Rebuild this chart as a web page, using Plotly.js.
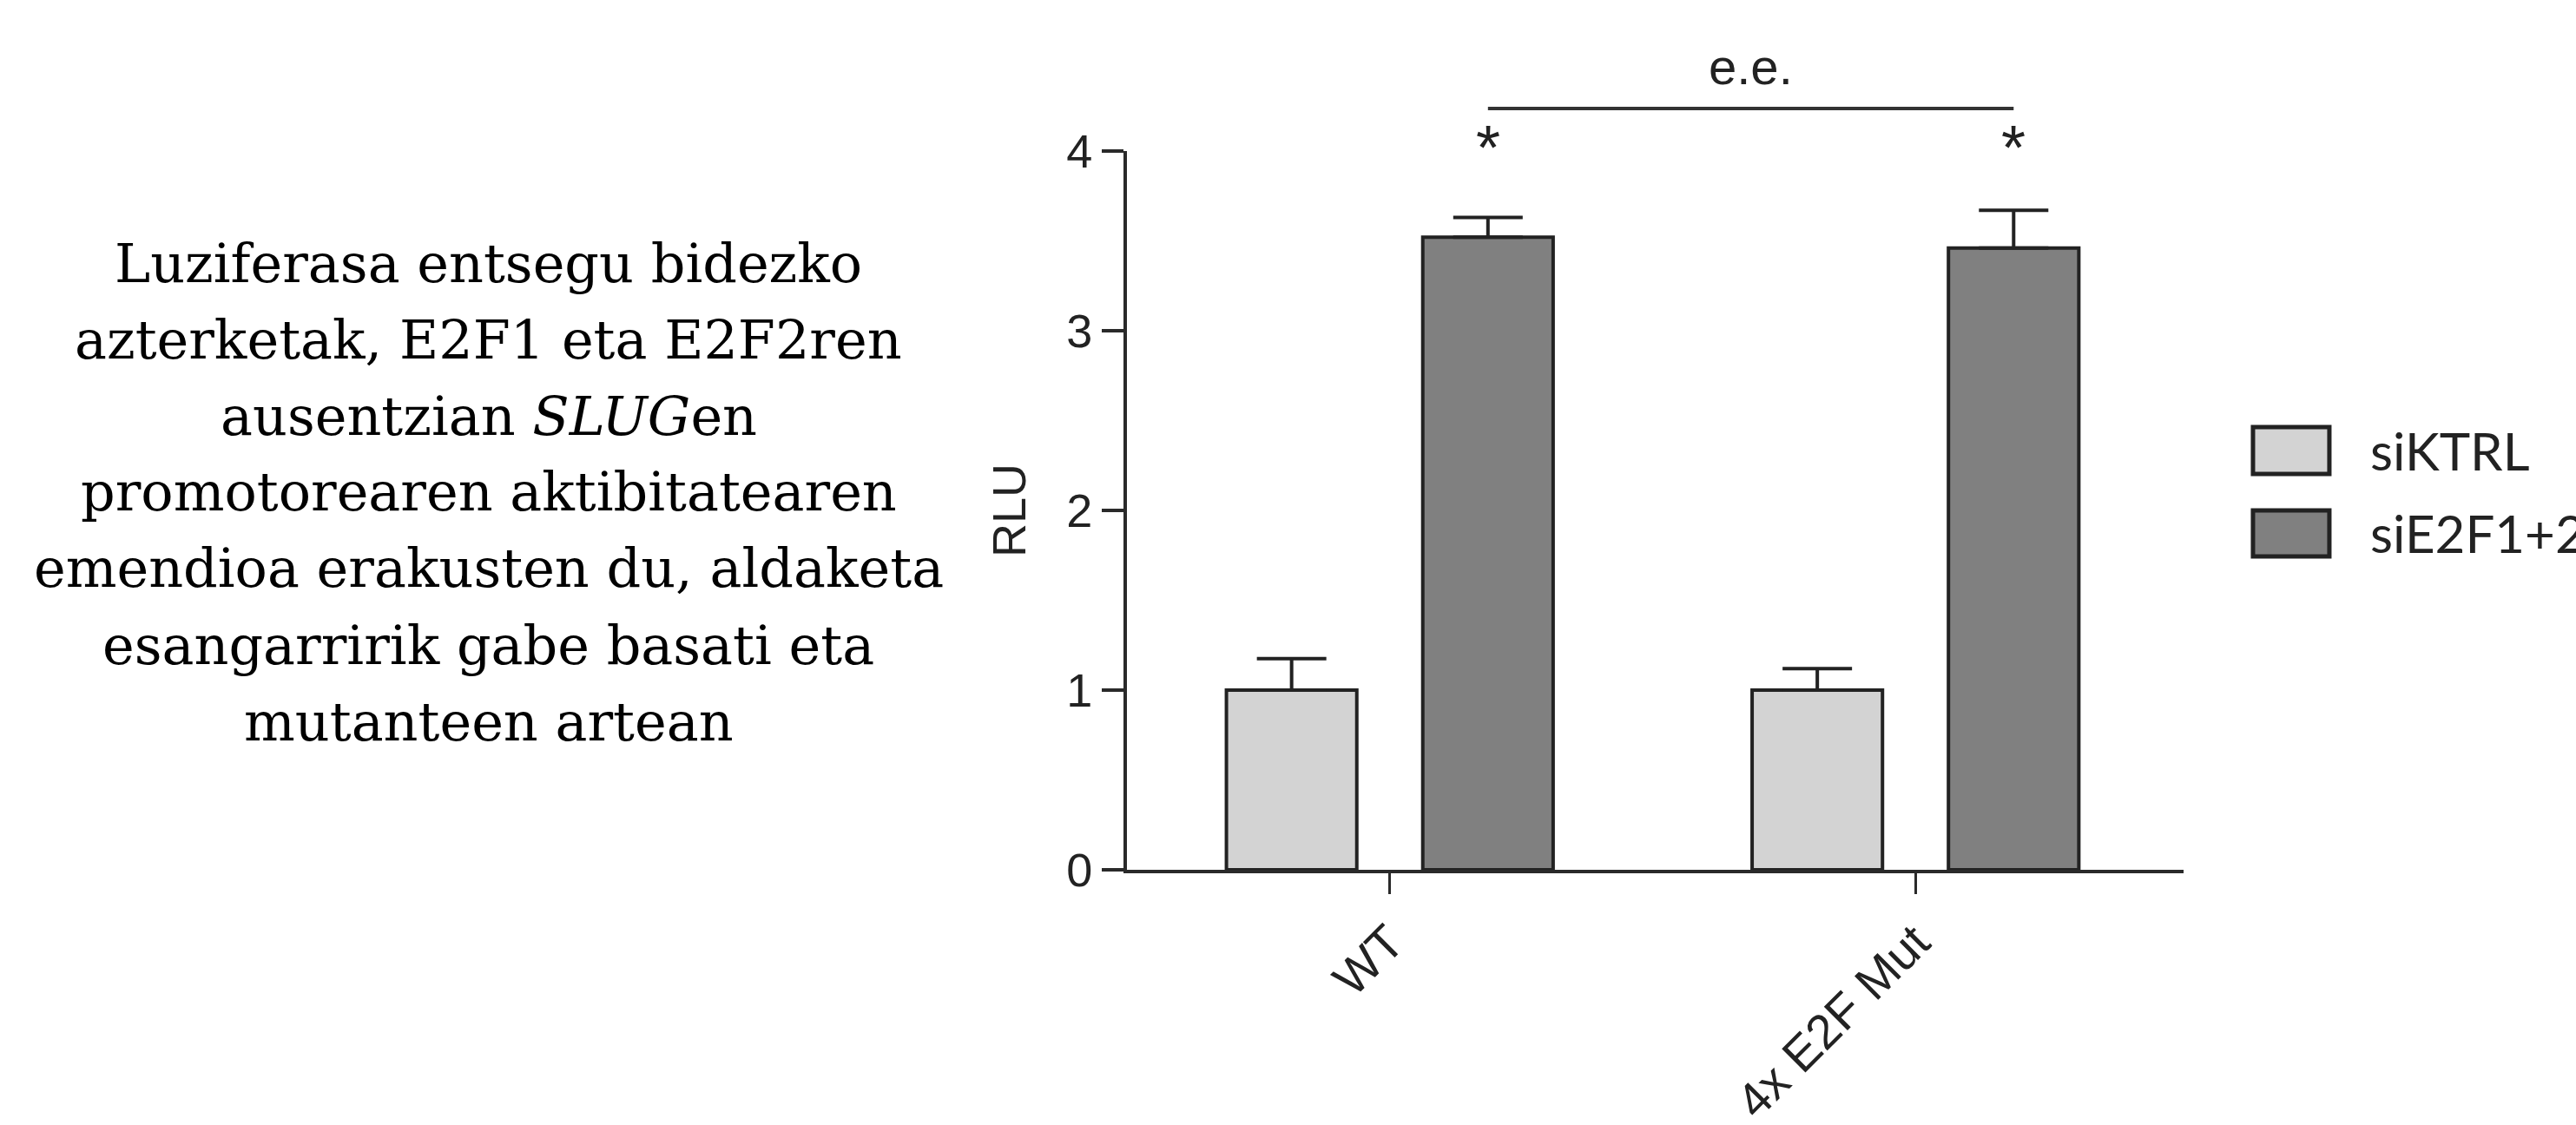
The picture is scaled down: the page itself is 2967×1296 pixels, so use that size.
<!DOCTYPE html>
<html>
<head>
<meta charset="utf-8">
<script src="https://cdn.plot.ly/plotly-3.0.1.min.js"></script>
<style>
  html, body { margin: 0; padding: 0; background: #ffffff; }
  #chart { width: 2967px; height: 1296px; }
</style>
</head>
<body>
<div id="chart"></div>
<script>
// ---- data ----
const categories = ['WT', '4x E2F Mut'];
const seriesNames = ['siKTRL', 'siE2F1+2'];
const siKTRL = [1.0, 1.0];
const siKTRLErr = [0.175, 0.12];
const siE2F = [3.52, 3.46];
const siE2FErr = [0.11, 0.21];
const seriesColors = ['#d3d3d3', '#808080'];
const yTicks = [0, 1, 2, 3, 4];
const yTitle = 'RLU';
const sigMarks = ['*', '*'];
const sigLabel = 'e.e.';
const captionLines = [
  'Luziferasa entsegu bidezko',
  'azterketak, E2F1 eta E2F2ren',
  'ausentzian <i>SLUG</i>en',
  'promotorearen aktibitatearen',
  'emendioa erakusten du, aldaketa',
  'esangarririk gabe basati eta',
  'mutanteen artean'
];

// ---- style ----
const ink = '#222222';
const sans = 'Liberation Sans, Arial, sans-serif';
const bargap = 0.253;
const bargroupgap = 0.336;

function errObj(arr) {
  return {
    type: 'data', symmetric: false, array: arr, arrayminus: arr.map(() => 0),
    color: ink, thickness: 4, width: 40
  };
}

const traces = [
  {
    type: 'bar', name: seriesNames[0], x: categories, y: siKTRL,
    marker: { color: seriesColors[0], line: { color: ink, width: 4 } },
    error_y: errObj(siKTRLErr), showlegend: false
  },
  {
    type: 'bar', name: seriesNames[1], x: categories, y: siE2F,
    marker: { color: seriesColors[1], line: { color: ink, width: 4 } },
    error_y: errObj(siE2FErr), showlegend: false
  }
];

// position of the second bar in each group (category index + offset)
const slot = (1 - bargap) / 2;
const darkOffset = slot / 2;
const darkX = categories.map((c, i) => i + darkOffset);

const annotations = [];
const shapes = [];

// significance stars
darkX.forEach((xv, i) => {
  annotations.push({
    xref: 'x', yref: 'paper', x: xv, y: 1.0054, text: sigMarks[i],
    showarrow: false, xanchor: 'center', yanchor: 'middle',
    font: { family: sans, size: 72, color: ink }
  });
});
// bracket line and "e.e."
shapes.push({
  type: 'line', xref: 'x', yref: 'paper',
  x0: darkX[0], x1: darkX[1], y0: 1.0592, y1: 1.0592,
  line: { color: '#333333', width: 4 }
});
annotations.push({
  xref: 'x', yref: 'paper', x: (darkX[0] + darkX[1]) / 2, y: 1.118, text: sigLabel,
  showarrow: false, xanchor: 'center', yanchor: 'middle',
  font: { family: sans, size: 58, color: ink }
});

// caption (left)
const captionY = [0.8442, 0.7379, 0.6316, 0.5254, 0.4191, 0.3128, 0.2065];
captionLines.forEach((t, i) => {
  annotations.push({
    xref: 'paper', yref: 'paper', x: -0.604, y: captionY[i], text: t,
    showarrow: false, xanchor: 'center', yanchor: 'middle',
    font: { family: 'DejaVu Serif, serif', size: 62, color: '#000000' }
  });
});

// legend (drawn manually to match big swatches)
const legBoxX0 = 1.0657, legBoxX1 = 1.138;
const legRows = [[0.616, 0.5507], [0.500, 0.436]];
seriesNames.forEach((nm, i) => {
  shapes.push({
    type: 'rect', xref: 'paper', yref: 'paper',
    x0: legBoxX0, x1: legBoxX1, y0: legRows[i][1], y1: legRows[i][0],
    fillcolor: seriesColors[i], line: { color: ink, width: 5 }
  });
  annotations.push({
    xref: 'paper', yref: 'paper', x: 1.175, y: (legRows[i][0] + legRows[i][1]) / 2,
    text: nm, showarrow: false, xanchor: 'left', yanchor: 'middle',
    font: { family: 'Lato, sans-serif', size: 60, color: ink }
  });
});

const layout = {
  width: 2967, height: 1296,
  paper_bgcolor: '#ffffff', plot_bgcolor: '#ffffff',
  margin: { l: 1298, r: 452, t: 174, b: 294, pad: 0 },
  barmode: 'group', bargap: bargap, bargroupgap: bargroupgap,
  showlegend: false,
  font: { family: sans, color: ink },
  xaxis: {
    type: 'category', categoryorder: 'array', categoryarray: categories,
    range: [-0.5, 1.51], showgrid: false, zeroline: false,
    showline: true, linecolor: '#2a2a2a', linewidth: 4,
    ticks: 'outside', ticklen: 24, tickwidth: 3, tickcolor: '#2a2a2a',
    tickangle: -45, tickfont: { family: sans, size: 56, color: ink },
    automargin: false
  },
  yaxis: {
    range: [0, 4], tickvals: yTicks, ticktext: yTicks.map(String),
    showgrid: false, zeroline: false,
    showline: true, linecolor: '#2a2a2a', linewidth: 4,
    ticks: 'outside', ticklen: 25, tickwidth: 4, tickcolor: '#2a2a2a',
    tickfont: { family: sans, size: 54, color: ink },
    title: { text: yTitle, font: { family: sans, size: 54, color: ink }, standoff: 30 },
    automargin: false
  },
  annotations: annotations,
  shapes: shapes
};

Plotly.newPlot('chart', traces, layout, { displayModeBar: false, staticPlot: true });
</script>
</body>
</html>
